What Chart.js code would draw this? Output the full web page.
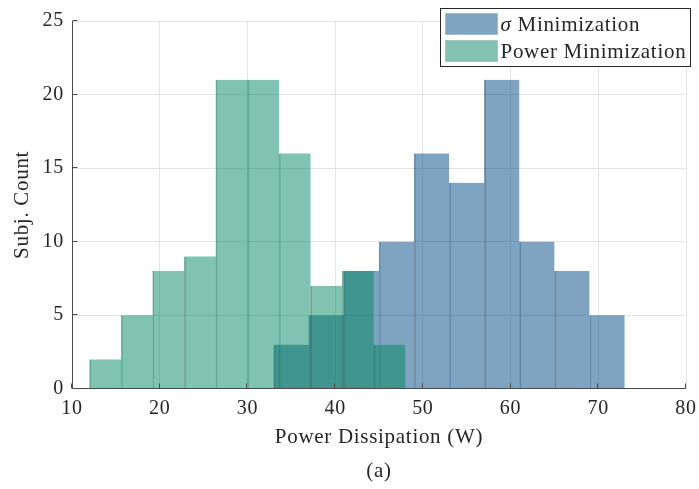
<!DOCTYPE html>
<html>
<head>
<meta charset="utf-8">
<script src="https://cdn.jsdelivr.net/npm/chart.js@4/dist/chart.umd.min.js"></script>
<style>
  html, body { margin: 0; padding: 0; background: #fff; }
  #wrap { width: 699px; height: 489px; position: relative; }
</style>
</head>
<body>
<div id="wrap"><canvas id="hist"></canvas></div>
<script>
// Histogram bin edges and subject counts for each optimisation objective
const sigmaEdges  = [33, 37, 41, 45, 49, 53, 57, 61, 65, 69, 73];
const sigmaCounts = [3, 5, 8, 10, 16, 14, 21, 10, 8, 5];

const powerEdges  = [12, 15.6, 19.2, 22.8, 26.4, 30, 33.6, 37.2, 40.8, 44.4, 48];
const powerCounts = [2, 5, 8, 9, 21, 21, 16, 7, 8, 3];

const xTicks = [10, 20, 30, 40, 50, 60, 70, 80];
const yTicks = [0, 5, 10, 15, 20, 25];

const seriesLabels = ['σ Minimization', 'Power Minimization'];

const FONT = "'Liberation Serif', 'Times New Roman', serif";
const INK = '#262626';
const TEXT_SIZE = 21;
const TICK_SIZE = 20;
const TRACKING = '0.7px';

// one bar per bin, centred on the bin
function binPoints(edges, counts) {
  return counts.map((c, i) => ({ x: (edges[i] + edges[i + 1]) / 2, y: c }));
}

const xAxisBase = {
  type: 'linear',
  min: xTicks[0],
  max: xTicks[xTicks.length - 1],
  offset: false,
  afterBuildTicks(scale) { scale.ticks = xTicks.map(v => ({ value: v })); }
};

// slightly wider letter spacing for a roomier serif look
const tracking = {
  id: 'tracking',
  beforeDraw(chart) { chart.ctx.letterSpacing = TRACKING; }
};

// draws the axis lines and MATLAB-style inward tick marks above the bars
const axesFrame = {
  id: 'axesFrame',
  afterDatasetsDraw(chart) {
    const { ctx, chartArea: a, scales } = chart;
    const x = scales.x, y = scales.y;
    const L = Math.floor(a.left) + 0.5;
    const B = Math.round(a.bottom) - 0.5;
    ctx.save();
    ctx.strokeStyle = '#4a4a4a';
    ctx.lineWidth = 1;
    ctx.beginPath();
    ctx.moveTo(L, a.top);
    ctx.lineTo(L, B);
    ctx.lineTo(a.right, B);
    x.ticks.forEach(t => {
      const px = Math.round(x.getPixelForValue(t.value)) - 0.5;
      ctx.moveTo(px, B);
      ctx.lineTo(px, B - 5);
    });
    y.ticks.forEach(t => {
      const py = Math.round(y.getPixelForValue(t.value)) - 0.5;
      ctx.moveTo(L, py);
      ctx.lineTo(L + 5, py);
    });
    ctx.stroke();
    ctx.restore();
  }
};

// boxed legend in the upper-right corner of the axes
const boxLegend = {
  id: 'boxLegend',
  afterDraw(chart) {
    const { ctx, chartArea: a } = chart;
    const items = chart.data.datasets.map(d => ({ label: d.label, color: d.backgroundColor }));
    const rowH = 27, swW = 52, swH = 21, padX = 5, padY = 5, gap = 3;
    const upright = `${TEXT_SIZE}px ${FONT}`;
    const italic = `italic ${TEXT_SIZE}px ${FONT}`;
    const isGreek = ch => /[\u0370-\u03FF]/.test(ch);
    ctx.save();
    ctx.letterSpacing = TRACKING;
    const textWidth = s => {
      let w = 0;
      for (const ch of s) { ctx.font = isGreek(ch) ? italic : upright; w += ctx.measureText(ch).width; }
      return w;
    };
    const maxW = Math.max(...items.map(it => textWidth(it.label)));
    const boxW = Math.round(padX + swW + gap + maxW + 4);
    const boxH = padY * 2 + rowH * (items.length - 1) + swH;
    const right = a.right + 4;
    const left = Math.round(right - boxW) + 0.5;
    const top = Math.round(a.top - 13) + 0.5;
    ctx.fillStyle = '#fff';
    ctx.fillRect(left, top, boxW, boxH);
    ctx.strokeStyle = '#262626';
    ctx.lineWidth = 1;
    ctx.strokeRect(left, top, boxW, boxH);
    items.forEach((it, i) => {
      const sy = top + padY + i * rowH;
      const sx = left + padX;
      ctx.fillStyle = it.color;
      ctx.fillRect(sx, sy, swW, swH);
      ctx.strokeStyle = 'rgba(0,0,0,0.12)';
      ctx.strokeRect(sx, sy, swW, swH);
      let tx = sx + swW + gap;
      ctx.fillStyle = INK;
      ctx.textBaseline = 'middle';
      ctx.textAlign = 'left';
      for (const ch of it.label) {
        ctx.font = isGreek(ch) ? italic : upright;
        ctx.fillText(ch, tx, sy + swH / 2 + 1);
        tx += ctx.measureText(ch).width;
      }
    });
    ctx.restore();
  }
};

const barStyle = {
  borderWidth: { left: 1, right: 0, top: 0, bottom: 0 },
  categoryPercentage: 1,
  barPercentage: 1,
  grouped: false
};

new Chart(document.getElementById('hist'), {
  type: 'bar',
  data: {
    datasets: [
      Object.assign({
        label: seriesLabels[0],
        data: binPoints(sigmaEdges, sigmaCounts),
        xAxisID: 'x',
        order: 2,
        backgroundColor: 'rgba(0, 73, 133, 0.5)',
        borderColor: 'rgba(0, 45, 85, 0.45)'
      }, barStyle),
      Object.assign({
        label: seriesLabels[1],
        data: binPoints(powerEdges, powerCounts),
        xAxisID: 'x2',
        order: 1,
        backgroundColor: 'rgba(1, 135, 97, 0.5)',
        borderColor: 'rgba(0, 85, 60, 0.45)'
      }, barStyle)
    ]
  },
  options: {
    responsive: true,
    maintainAspectRatio: false,
    animation: false,
    layout: { padding: { left: 0, right: 13, top: 21, bottom: 0 } },
    plugins: {
      legend: { display: false },
      tooltip: { enabled: false },
      title: {
        display: true,
        fullSize: false,
        position: 'bottom',
        text: '(a)',
        color: INK,
        font: { family: FONT, size: TEXT_SIZE, weight: 'normal', lineHeight: 1.2 },
        padding: { top: 0, bottom: 5 }
      }
    },
    scales: {
      x: Object.assign({}, xAxisBase, {
        position: 'bottom',
        grid: { color: '#e3e3e3', drawTicks: false, offset: false },
        border: { display: false },
        ticks: { color: INK, padding: 8, font: { family: FONT, size: TICK_SIZE }, maxRotation: 0 },
        title: {
          display: true,
          text: 'Power Dissipation (W)',
          color: INK,
          font: { family: FONT, size: TEXT_SIZE, lineHeight: 1.2 },
          padding: { top: 0, bottom: 9 }
        },
        afterFit(scale) {
          scale.height = 70;
          scale.paddingLeft = 0;
          scale.paddingRight = 0;
        }
      }),
      x2: Object.assign({}, xAxisBase, {
        position: 'bottom',
        display: false,
        grid: { display: false, offset: false }
      }),
      y: {
        type: 'linear',
        min: yTicks[0],
        max: yTicks[yTicks.length - 1],
        afterBuildTicks(scale) { scale.ticks = yTicks.map(v => ({ value: v })); },
        grid: { color: '#e3e3e3', drawTicks: false },
        border: { display: false },
        ticks: { color: INK, padding: 8, font: { family: FONT, size: TICK_SIZE } },
        title: {
          display: true,
          text: 'Subj. Count',
          color: INK,
          font: { family: FONT, size: TEXT_SIZE, lineHeight: 1.2 },
          padding: { top: 10, bottom: 0 }
        },
        afterFit(scale) { scale.width = 72; }
      }
    }
  },
  plugins: [tracking, axesFrame, boxLegend]
});
</script>
</body>
</html>
